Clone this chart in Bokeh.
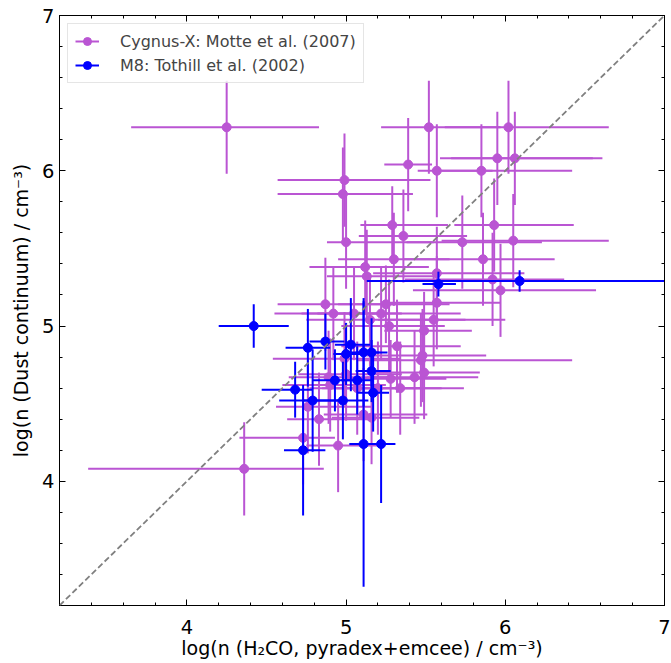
import numpy as np
from bokeh.plotting import figure
from bokeh.models import (ColumnDataSource, LinearAxis, SingleIntervalTicker, Legend,
                          LegendItem, Range1d, Slope)
from bokeh.embed import file_html
from bokeh.resources import INLINE

# ---------------- data ----------------
# Cygnus-X: Motte et al. (2007)
cyg_x = [4.25, 4.36, 5.52, 6.02, 5.39, 5.57, 5.85, 5.95, 6.06, 4.99, 4.98, 5.00, 5.29,
         5.36, 5.73, 5.93, 6.05, 5.30, 5.86, 5.12, 5.13, 5.92, 5.97, 5.57, 5.57, 4.87,
         5.25, 4.92, 5.05, 5.22, 5.15, 5.55, 5.27, 5.49, 5.32, 5.47, 5.48, 4.99, 5.00,
         4.89, 5.28, 5.43, 5.49, 4.90, 5.07, 5.34, 5.20, 4.76, 4.83, 5.11, 5.16, 4.73, 4.95]
cyg_y = [6.28, 4.08, 6.28, 6.28, 6.04, 6.00, 6.00, 6.08, 6.08, 5.94, 5.85, 5.54, 5.65,
         5.58, 5.54, 5.65, 5.55, 5.43, 5.43, 5.38, 5.32, 5.30, 5.23, 5.34, 5.15, 5.14,
         5.14, 5.08, 5.08, 5.08, 5.04, 5.04, 5.00, 4.97, 4.87, 4.78, 4.81, 4.79, 4.69,
         4.67, 4.66, 4.67, 4.70, 4.62, 4.60, 4.60, 4.60, 4.48, 4.40, 4.43, 4.41, 4.28, 4.23]
cyg_xerr_lo = [0.60, 0.98, 0.30, 0.40, 0.15, 0.12, 0.25, 0.36, 0.40, 0.42, 0.41, 0.12, 0.20,
               0.28, 0.35, 0.25, 0.45, 0.35, 0.50, 0.35, 0.25, 0.55, 0.55, 0.40, 0.30, 0.30,
               0.30, 0.20, 0.50, 0.40, 0.40, 0.35, 0.30, 0.25, 0.35, 0.40, 0.35, 0.45, 0.30,
               0.25, 0.30, 0.30, 0.30, 0.30, 0.30, 0.40, 0.35, 0.20, 0.20, 0.25, 0.25, 0.40, 0.20]
cyg_xerr_hi = [0.58, 0.50, 0.45, 0.63, 0.15, 0.35, 0.57, 0.60, 0.55, 0.54, 0.44, 0.55, 0.35,
               0.40, 0.50, 0.50, 0.60, 0.35, 0.45, 0.40, 0.45, 0.45, 0.60, 0.55, 0.40, 0.45,
               0.40, 0.35, 0.30, 0.50, 0.60, 0.45, 0.35, 0.30, 0.40, 0.95, 0.40, 0.35, 0.35,
               0.40, 0.35, 0.40, 0.35, 0.35, 0.40, 0.40, 0.40, 0.40, 0.35, 0.40, 0.30, 0.20, 0.25]
cyg_yerr = [0.30, 0.30, 0.30, 0.30, 0.30, 0.30, 0.30, 0.30, 0.30, 0.30, 0.30, 0.30, 0.25,
            0.30, 0.30, 0.30, 0.30, 0.30, 0.30, 0.30, 0.30, 0.30, 0.30, 0.30, 0.30, 0.30,
            0.25, 0.30, 0.30, 0.30, 0.30, 0.30, 0.30, 0.25, 0.30, 0.30, 0.30, 0.30, 0.30,
            0.30, 0.25, 0.30, 0.30, 0.30, 0.30, 0.30, 0.30, 0.30, 0.30, 0.30, 0.30, 0.30, 0.30]

# M8: Tothill et al. (2002)
m8_x = [4.42, 6.09, 5.58, 4.76, 4.87, 5.03, 5.00, 5.11, 5.16, 4.68, 4.93, 5.07, 5.16,
        4.79, 4.98, 5.17, 4.73, 5.11, 5.22]
m8_y = [5.00, 5.29, 5.27, 4.86, 4.90, 4.88, 4.82, 4.83, 4.83, 4.59, 4.65, 4.65, 4.71,
        4.52, 4.52, 4.57, 4.20, 4.24, 4.24]
m8_xerr_lo = [0.22, 0.96, 0.10, 0.14, 0.10, 0.10, 0.08, 0.10, 0.10, 0.21, 0.14, 0.10, 0.10,
              0.21, 0.25, 0.10, 0.12, 0.09, 0.09]
m8_xerr_hi = [0.22, 0.96, 0.11, 0.14, 0.12, 0.12, 0.10, 0.10, 0.10, 0.11, 0.10, 0.10, 0.12,
              0.21, 0.16, 0.10, 0.14, 0.09, 0.09]
m8_yerr = [0.14, 0.07, 0.08, 0.25, 0.18, 0.30, 0.20, 0.35, 0.22, 0.18, 0.20, 0.22, 0.20,
           0.33, 0.25, 0.25, 0.42, 0.92, 0.38]

x_label = "log(n (H₂CO, pyradex+emcee) / cm⁻³)"
y_label = "log(n (Dust continuum) / cm⁻³)"
series_labels = ["Cygnus-X: Motte et al. (2007)", "M8: Tothill et al. (2002)"]

PURPLE = "#BA55D3"
BLUE = "#0000FF"
FONT = "DejaVu Sans"


def make_source(x, y, xlo, xhi, yerr):
    x = np.asarray(x); y = np.asarray(y)
    return ColumnDataSource(dict(
        x=x, y=y,
        xl=x - np.asarray(xlo), xr=x + np.asarray(xhi),
        yl=y - np.asarray(yerr), yh=y + np.asarray(yerr)))


p = figure(width=671, height=663, output_backend="svg", toolbar_location=None,
           x_range=Range1d(3.2, 7), y_range=Range1d(3.2, 7),
           min_border_left=59, min_border_right=7, min_border_top=15, min_border_bottom=58,
           x_axis_location=None, y_axis_location=None)
p.grid.visible = False
p.outline_line_color = "black"
p.outline_line_width = 1
p.background_fill_color = "white"
p.border_fill_color = "white"


def style_axis(ax, labels=True):
    ax.ticker = SingleIntervalTicker(interval=1, num_minor_ticks=5)
    ax.major_tick_in = 6
    ax.major_tick_out = 0
    ax.minor_tick_in = 3
    ax.minor_tick_out = 0
    ax.axis_line_color = "black"
    ax.major_tick_line_color = "black"
    ax.minor_tick_line_color = "black"
    ax.major_label_text_font = FONT
    ax.major_label_text_font_size = "19.5px"
    ax.major_label_text_color = "black"
    ax.axis_label_text_font = FONT
    ax.axis_label_text_font_size = "19px"
    ax.axis_label_text_font_style = "normal"
    ax.axis_label_text_color = "black"
    if not labels:
        ax.major_label_text_font_size = "1px"
        ax.major_label_text_color = None
        ax.major_label_standoff = 0
        ax.axis_label = None


xb = LinearAxis(axis_label=x_label)
style_axis(xb)
xb.major_label_standoff = 14
xb.axis_label_standoff = 0
yl = LinearAxis(axis_label=y_label)
style_axis(yl)
yl.major_label_standoff = 5
yl.axis_label_standoff = 7
xt = LinearAxis()
style_axis(xt, labels=False)
yr = LinearAxis()
style_axis(yr, labels=False)
p.add_layout(xb, "below")
p.add_layout(yl, "left")
p.add_layout(xt, "above")
p.add_layout(yr, "right")

src_c = make_source(cyg_x, cyg_y, cyg_xerr_lo, cyg_xerr_hi, cyg_yerr)
src_m = make_source(m8_x, m8_y, m8_xerr_lo, m8_xerr_hi, m8_yerr)

hc = p.segment(x0="xl", y0="y", x1="xr", y1="y", source=src_c, line_color=PURPLE, line_width=2)
vc = p.segment(x0="x", y0="yl", x1="x", y1="yh", source=src_c, line_color=PURPLE, line_width=2)
sc = p.scatter(x="x", y="y", source=src_c, size=9, fill_color=PURPLE, line_color=PURPLE)

hm = p.segment(x0="xl", y0="y", x1="xr", y1="y", source=src_m, line_color=BLUE, line_width=2)
vm = p.segment(x0="x", y0="yl", x1="x", y1="yh", source=src_m, line_color=BLUE, line_width=2)
sm = p.scatter(x="x", y="y", source=src_m, size=9, fill_color=BLUE, line_color=BLUE)

p.add_layout(Slope(gradient=1, y_intercept=0, line_color="#808080", line_width=1.8,
                   line_dash="6 3"))

legend = Legend(items=[
    LegendItem(label=series_labels[0], renderers=[hc, sc]),
    LegendItem(label=series_labels[1], renderers=[hm, sm]),
], location="top_left")
legend.margin = 8
legend.padding = 7
legend.spacing = 4
legend.glyph_width = 24
legend.glyph_height = 20
legend.label_standoff = 21
legend.label_text_font = FONT
legend.label_text_font_size = "16px"
legend.border_line_color = "#cccccc"
legend.border_line_width = 1
legend.background_fill_alpha = 0.8
p.add_layout(legend)

open("out.html", "w").write(file_html(p, INLINE))
